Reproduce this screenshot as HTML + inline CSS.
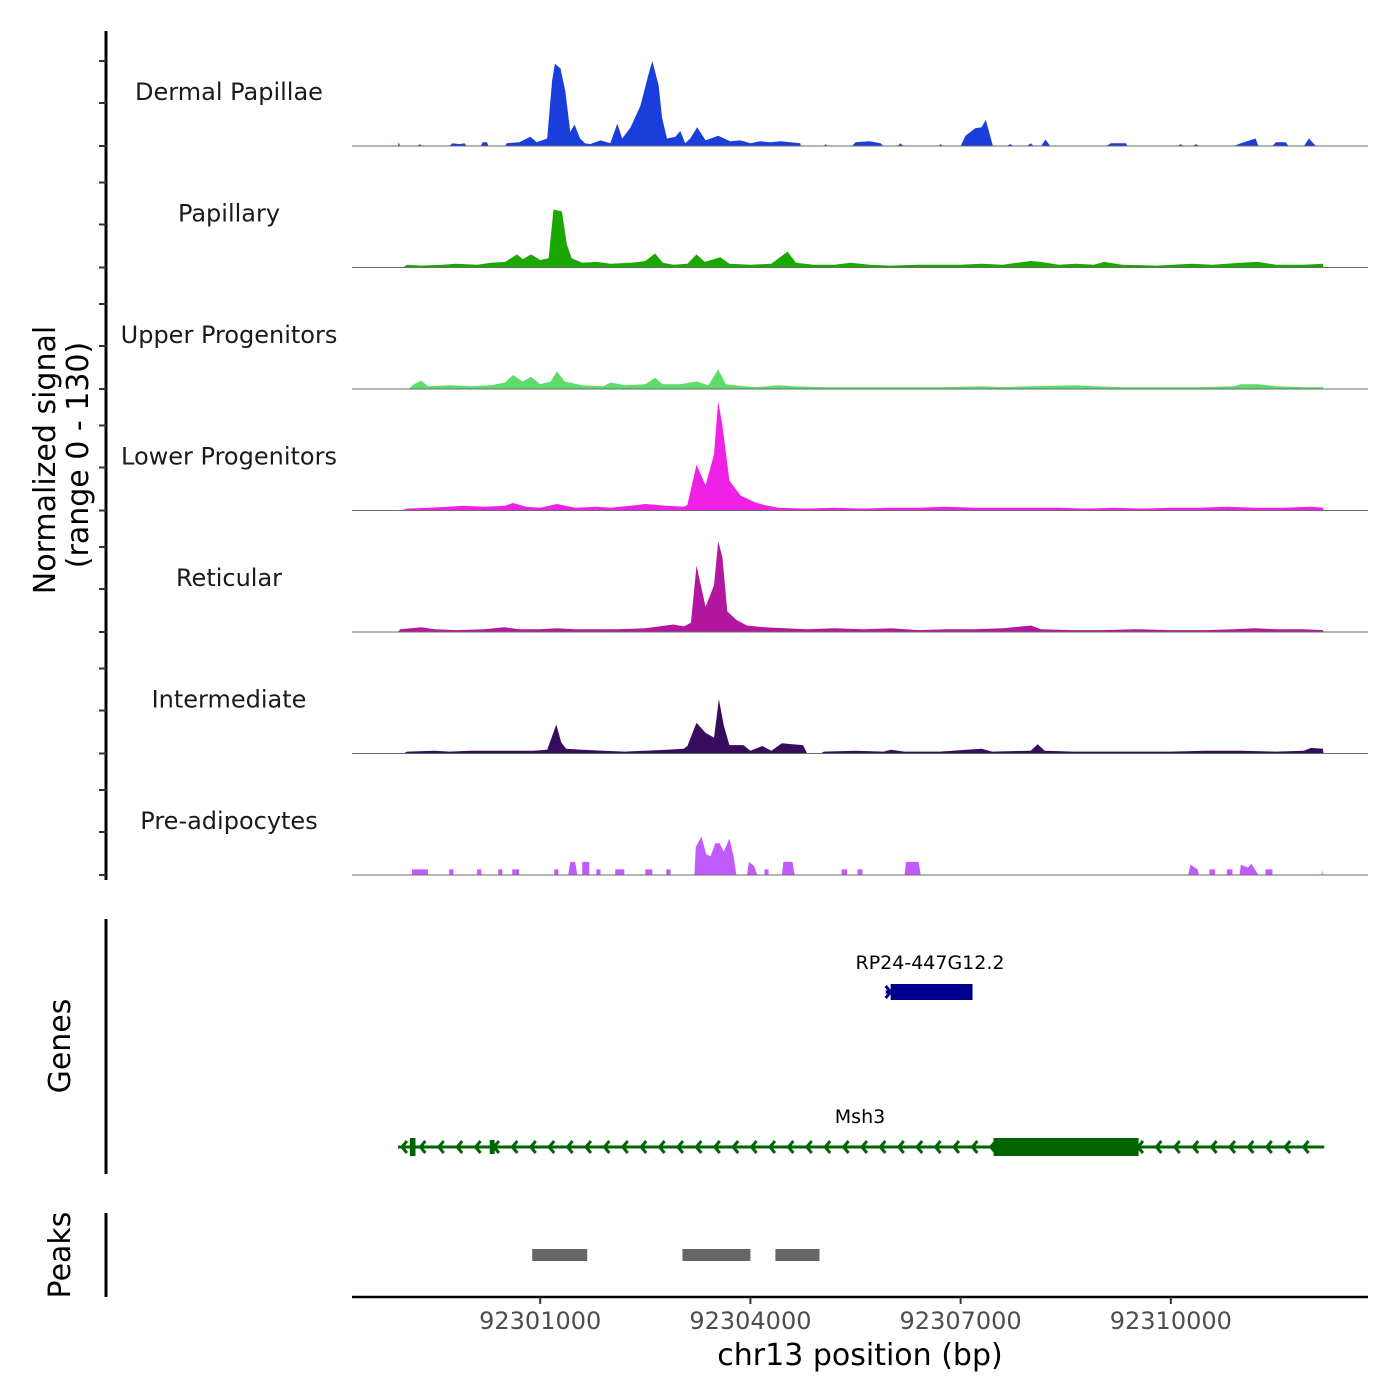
<!DOCTYPE html>
<html><head><meta charset="utf-8">
<style>
body{margin:0;background:#fff;}
svg{display:block;font-family:"DejaVu Sans","Liberation Sans",sans-serif;}
</style></head>
<body>
<svg id="chart" width="1400" height="1400" viewBox="0 0 1400 1400" xmlns="http://www.w3.org/2000/svg">
<g id="tracks"></g>
<g id="axes"></g>
<g id="genes"></g>
<g id="peaks"></g>
</svg>
<script>
// Positions in kb relative to 92300000; values in normalized signal units (0-130)
const trackNames = ["Dermal Papillae","Papillary","Upper Progenitors","Lower Progenitors","Reticular","Intermediate","Pre-adipocytes"];
const trackColors = ["#1a3edb","#1aa800","#5ddc6a","#f020e6","#b4179f","#380c5c","#c15bff"];
const dermalPapillae = [[-1.03,0],[-1.02,4],[-1.0,0],[-0.75,0],[-0.72,2],[-0.68,0],[-0.3,0],[-0.25,3],[-0.15,2],[-0.08,3],[-0.05,0],[0.15,0],[0.18,4],[0.24,4],[0.26,0],[0.5,0],[0.52,3],[0.7,4],[0.86,10],[0.95,4],[1.1,8],[1.17,70],[1.21,88],[1.29,83],[1.36,58],[1.43,15],[1.49,23],[1.57,8],[1.64,3],[1.71,2],[1.86,6],[2.0,3],[2.1,24],[2.17,8],[2.29,20],[2.43,43],[2.54,75],[2.6,91],[2.69,65],[2.74,30],[2.81,8],[2.93,10],[3.0,16],[3.07,3],[3.14,8],[3.24,20],[3.36,6],[3.54,11],[3.71,5],[3.86,6],[4.0,3],[4.14,5],[4.29,4],[4.43,5],[4.57,4],[4.71,3],[4.72,0],[5.05,0],[5.07,2],[5.1,0],[5.45,0],[5.5,4],[5.7,5],[5.86,3],[5.9,0],[6.1,0],[6.14,3],[6.18,0],[6.69,0],[6.71,2],[6.75,0],[7.0,0],[7.07,11],[7.21,19],[7.3,20],[7.36,28],[7.46,0],[7.65,0],[7.71,2],[7.75,0],[7.95,0],[8.0,3],[8.04,0],[8.15,0],[8.21,7],[8.28,0],[9.08,0],[9.14,3],[9.36,3],[9.38,0],[10.1,0],[10.14,2],[10.18,0],[10.32,0],[10.36,2],[10.4,0],[10.9,0],[11.0,3],[11.21,8],[11.25,0],[11.45,0],[11.5,4],[11.64,4],[11.68,0],[11.9,0],[11.97,8],[12.07,0]];
const papillary = [[-0.96,0],[-0.9,3],[-0.7,2],[-0.4,3],[-0.2,4],[0.1,3],[0.3,5],[0.5,6],[0.67,14],[0.75,9],[0.87,14],[1.0,8],[1.12,10],[1.19,62],[1.31,60],[1.38,25],[1.45,10],[1.6,5],[1.8,6],[2.0,4],[2.3,5],[2.5,7],[2.64,15],[2.75,5],[2.9,3],[3.1,4],[3.23,14],[3.35,6],[3.57,11],[3.7,4],[4.0,3],[4.3,4],[4.53,17],[4.65,5],[4.9,3],[5.2,3],[5.43,5],[5.7,3],[6.0,2],[6.4,3],[6.6,3],[7.0,3],[7.3,4],[7.6,3],[8.0,7],[8.14,6],[8.4,3],[8.64,4],[8.9,3],[9.05,6],[9.3,3],[9.8,2],[10.3,4],[10.6,3],[11.0,5],[11.24,6],[11.5,3],[11.9,3],[12.17,4],[12.18,0]];
const upperProgenitors = [[-0.88,0],[-0.8,5],[-0.7,9],[-0.6,3],[-0.3,4],[0.0,3],[0.3,4],[0.5,7],[0.61,15],[0.75,8],[0.87,13],[1.0,5],[1.15,8],[1.24,19],[1.35,8],[1.6,4],[1.9,3],[2.01,7],[2.2,4],[2.5,5],[2.64,12],[2.75,5],[3.0,5],[3.23,8],[3.4,4],[3.54,21],[3.65,5],[3.9,3],[4.1,2],[4.4,4],[4.6,3],[5.0,2],[5.4,2],[5.8,2],[6.3,2],[6.8,2],[7.3,3],[7.6,2],[8.0,3],[8.64,4],[8.9,3],[9.3,2],[9.9,2],[10.4,2],[10.9,3],[11.0,5],[11.25,5],[11.5,3],[11.9,2],[12.17,2],[12.18,0]];
const lowerProgenitors = [[-1.0,0],[-0.9,2],[-0.6,3],[-0.3,4],[-0.1,5],[0.2,4],[0.5,5],[0.61,8],[0.8,4],[1.0,3],[1.24,7],[1.5,3],[1.8,4],[2.0,3],[2.4,6],[2.5,7],[2.8,5],[3.05,4],[3.1,6],[3.23,49],[3.36,27],[3.48,60],[3.54,117],[3.6,91],[3.7,32],[3.86,16],[4.06,9],[4.19,6],[4.4,3],[4.8,2],[5.2,3],[5.6,2],[6.0,3],[6.4,3],[6.8,4],[7.2,3],[7.6,3],[8.0,3],[8.4,3],[8.8,2],[9.2,3],[9.6,2],[10.0,3],[10.4,3],[10.8,4],[11.2,3],[11.6,3],[12.0,4],[12.17,3],[12.18,0]];
const reticular = [[-1.03,0],[-1.0,3],[-0.7,5],[-0.5,3],[-0.2,2],[0.2,3],[0.49,5],[0.7,3],[1.0,3],[1.24,4],[1.5,3],[1.8,3],[2.1,3],[2.5,4],[2.9,8],[3.05,6],[3.15,10],[3.23,71],[3.36,27],[3.48,50],[3.54,97],[3.6,80],[3.67,22],[3.8,13],[3.95,7],[4.2,5],[4.5,4],[4.8,3],[5.2,4],[5.6,3],[6.0,4],[6.4,2],[6.8,3],[7.2,3],[7.6,4],[8.0,7],[8.15,3],[8.6,2],[9.0,2],[9.5,3],[10.0,2],[10.5,2],[10.9,3],[11.2,4],[11.5,3],[11.9,3],[12.17,2],[12.18,0]];
const intermediate = [[-0.95,0],[-0.9,2],[-0.5,3],[-0.3,2],[0.0,3],[0.5,3],[0.9,3],[1.1,4],[1.23,31],[1.3,12],[1.37,5],[1.6,4],[1.9,3],[2.2,2],[2.5,3],[2.8,4],[3.05,5],[3.1,8],[3.23,33],[3.36,22],[3.48,17],[3.55,58],[3.62,30],[3.7,9],[3.9,9],[4.0,3],[4.17,8],[4.3,3],[4.45,11],[4.6,10],[4.75,9],[4.81,0],[5.0,0],[5.05,2],[5.5,3],[5.9,2],[6.0,4],[6.2,2],[6.7,2],[7.3,5],[7.45,2],[8.0,3],[8.1,10],[8.2,3],[8.6,2],[9.0,2],[9.5,2],[10.0,2],[10.5,3],[11.0,3],[11.5,2],[11.9,3],[12.0,6],[12.17,5],[12.18,0]];
const preAdipocytes = [[-0.83,0],[-0.83,6],[-0.6,6],[-0.6,0],[-0.3,0],[-0.3,6],[-0.24,6],[-0.24,0],[0.1,0],[0.1,6],[0.16,6],[0.16,0],[0.4,0],[0.4,6],[0.46,6],[0.46,0],[0.6,0],[0.6,6],[0.7,6],[0.7,0],[1.2,0],[1.2,6],[1.26,6],[1.26,0],[1.4,0],[1.43,14],[1.5,14],[1.53,0],[1.6,0],[1.6,14],[1.7,14],[1.7,0],[1.8,0],[1.8,6],[1.86,6],[1.86,0],[2.07,0],[2.07,6],[2.2,6],[2.2,0],[2.5,0],[2.5,6],[2.6,6],[2.6,0],[2.8,0],[2.8,6],[2.86,6],[2.86,0],[3.2,0],[3.22,30],[3.3,41],[3.37,22],[3.43,20],[3.5,34],[3.56,34],[3.62,25],[3.7,39],[3.76,20],[3.8,0],[3.95,0],[3.98,14],[4.05,10],[4.1,0],[4.2,0],[4.2,6],[4.26,6],[4.26,0],[4.45,0],[4.47,14],[4.6,14],[4.63,0],[5.3,0],[5.3,6],[5.38,6],[5.38,0],[5.53,0],[5.53,6],[5.6,6],[5.6,0],[6.2,0],[6.22,14],[6.4,14],[6.43,0],[10.25,0],[10.28,11],[10.38,6],[10.4,0],[10.55,0],[10.55,6],[10.63,6],[10.63,0],[10.8,0],[10.8,6],[10.88,6],[10.88,0],[10.98,0],[11.0,11],[11.1,8],[11.15,12],[11.25,0],[11.35,0],[11.35,6],[11.45,6],[11.45,0],[12.15,0],[12.16,5],[12.17,0]];
const trackData = [dermalPapillae,papillary,upperProgenitors,lowerProgenitors,reticular,intermediate,preAdipocytes];
const xTicks = [92301000,92304000,92307000,92310000];
const genes = [["RP24-447G12.2",5.93,7.17,"#000090","+"],["Msh3",-1.03,12.19,"#006400","-"]];
const msh3Exons = [[-0.86,-0.78],[0.28,0.35],[7.47,9.54]];
const peakRanges = [[0.886,1.671],[3.03,4.0],[4.357,4.986]];
const yMax = 130;

const NS="http://www.w3.org/2000/svg";
const X0=352,X1=1368, BP0=92298314, BP1=92312814;
function xs(bp){return X0+(bp-BP0)/(BP1-BP0)*(X1-X0);}
function xk(kb){return xs(92300000+kb*1000);}
const trackH=121.5, base0=146;
function ys(v,i){return base0+i*trackH - v/yMax*trackH;}
function mk(tag,attrs,parent){const e=document.createElementNS(NS,tag);for(const k in attrs)e.setAttribute(k,attrs[k]);parent.appendChild(e);return e;}

const tg=document.getElementById('tracks');
trackData.forEach((pts,i)=>{
  const b=base0+i*trackH;
  let d="M"+xk(pts[0][0]).toFixed(1)+","+b;
  pts.forEach(p=>{d+="L"+xk(p[0]).toFixed(1)+","+ys(p[1],i).toFixed(1);});
  d+="L"+xk(pts[pts.length-1][0]).toFixed(1)+","+b+"Z";
  const a=mk('path',{d:d,fill:trackColors[i]},tg);
  
  
  const l=mk('line',{x1:X0,x2:X1,y1:b,y2:b,stroke:'#6b6b6b','stroke-width':1},tg);
  
  
  const t=mk('text',{x:229,y:b-46,'text-anchor':'middle','font-size':24,fill:'#1a1a1a'},tg);
  t.textContent=trackNames[i];
  
  
});

const ax=document.getElementById('axes');
mk('line',{x1:106,x2:106,y1:31,y2:880,stroke:'#000','stroke-width':3},ax);
for(let i=0;i<7;i++){const b=base0+i*trackH;[0,43,85].forEach(o=>{mk('line',{x1:99,x2:106,y1:b-o,y2:b-o,stroke:'#333','stroke-width':2},ax);});}
mk('line',{x1:106,x2:106,y1:919,y2:1174,stroke:'#000','stroke-width':3},ax);
mk('line',{x1:106,x2:106,y1:1213,y2:1297,stroke:'#000','stroke-width':3},ax);
mk('line',{x1:352,x2:1368,y1:1297,y2:1297,stroke:'#000','stroke-width':2.5},ax);
xTicks.forEach(v=>{
  const x=xs(v);
  mk('line',{x1:x,x2:x,y1:1297,y2:1304,stroke:'#333','stroke-width':2},ax);
  const t=mk('text',{x:x,y:1329,'text-anchor':'middle','font-size':24,fill:'#4d4d4d'},ax);
  t.textContent=v;
  
  
});
function txt(s,attrs,name){const t=mk('text',attrs,ax);t.textContent=s;}
txt("chr13 position (bp)",{x:860,y:1365,'text-anchor':'middle','font-size':30,fill:'#000'},'x-axis-title');
txt("Normalized signal",{x:0,y:0,transform:'translate(55,460) rotate(-90)','text-anchor':'middle','font-size':30,fill:'#000'},'y-axis-title');
txt("(range 0 - 130)",{x:0,y:0,transform:'translate(88,455) rotate(-90)','text-anchor':'middle','font-size':30,fill:'#000'},'y-axis-range');
txt("Genes",{x:0,y:0,transform:'translate(70,1046) rotate(-90)','text-anchor':'middle','font-size':30,fill:'#000'},'genes-axis-title');
txt("Peaks",{x:0,y:0,transform:'translate(70,1255) rotate(-90)','text-anchor':'middle','font-size':30,fill:'#000'},'peaks-axis-title');

const gg=document.getElementById('genes');
genes.forEach((g,i)=>{
  const y = i===0?992:1147;
  const x1=xk(g[1]), x2=xk(g[2]), col=g[3];
  const lab=mk('text',{x:i===0?930:860,y:i===0?969:1123,'text-anchor':'middle','font-size':19,fill:'#000'},gg);
  lab.textContent=g[0];
  
  
  mk('line',{x1:x1,x2:x2,y1:y,y2:y,stroke:col,'stroke-width':3},gg);
  if(i===0){
    const r=mk('rect',{x:x1+5,y:y-8,width:x2-x1-5,height:16,fill:col},gg);
    
    
    mk('path',{d:`M${x1},${y-6}L${x1+5},${y}L${x1},${y+6}`,stroke:col,'stroke-width':3,fill:'none'},gg);
  } else {
    for(let x=x1+4;x<x2-5;x+=18.4){mk('path',{d:`M${x+5},${y-6}L${x},${y}L${x+5},${y+6}`,stroke:col,'stroke-width':3,fill:'none'},gg);}
    msh3Exons.forEach((e,j)=>{
      const ex1=xk(e[0]),ex2=xk(e[1]);
      const r=mk('rect',{x:ex1,y:j===1?y-7:y-9,width:ex2-ex1,height:j===1?14:18,fill:col},gg);
      
      
    });
  }
});

const pg=document.getElementById('peaks');
peakRanges.forEach(p=>{
  const r=mk('rect',{x:xk(p[0]),y:1249,width:xk(p[1])-xk(p[0]),height:12,fill:'#666'},pg);
  
  
});
</script>
</body></html>
